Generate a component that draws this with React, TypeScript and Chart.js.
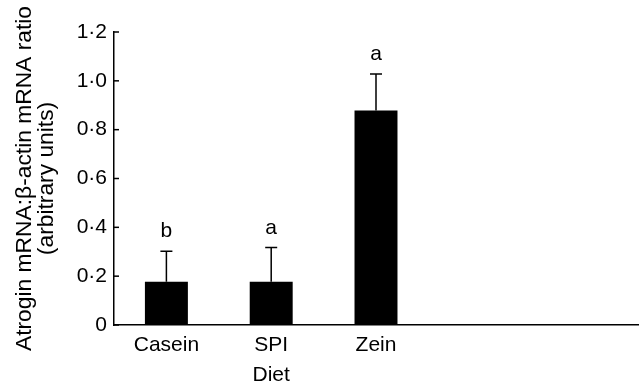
import React, { useEffect, useRef } from 'react';
import { Chart, registerables } from 'chart.js';

Chart.register(...registerables);

const categories = ['Casein', 'SPI', 'Zein', '', ''];
const meanValues = [0.177, 0.177, 0.878, null, null];
const errorValues = [0.125, 0.14, 0.15, null, null];
const letters = ['b', 'a', 'a', '', ''];
const yTickValues = [0, 0.2, 0.4, 0.6, 0.8, 1.0, 1.2];
const yTitle = ['Atrogin mRNA:β-actin mRNA ratio', '(arbitrary units)'];
const xTitle = 'Diet';

const FONT = '"Liberation Sans", Arial, Helvetica, sans-serif';
const FONT_SIZE = 21;
const TITLE_SIZE = 22.8;

const annotations = {
  id: 'annotations',
  afterDatasetsDraw(chart: any) {
    const { ctx, scales } = chart;
    const x = scales.x;
    const y = scales.y;
    ctx.save();
    // inward tick marks on the y axis
    ctx.strokeStyle = '#000';
    ctx.lineWidth = 1.5;
    yTickValues.forEach((v) => {
      const py = y.getPixelForValue(v);
      ctx.beginPath();
      ctx.moveTo(x.left, py);
      ctx.lineTo(x.left + 5, py);
      ctx.stroke();
    });
    // error bars and letters
    ctx.fillStyle = '#000';
    ctx.font = `${FONT_SIZE}px ${FONT}`;
    ctx.textAlign = 'center';
    ctx.textBaseline = 'alphabetic';
    meanValues.forEach((m, i) => {
      if (m == null) return;
      const e = errorValues[i] as number;
      const px = x.getPixelForValue(i);
      const pTop = y.getPixelForValue(m + e);
      const pMean = y.getPixelForValue(m);
      ctx.beginPath();
      ctx.moveTo(px, pMean);
      ctx.lineTo(px, pTop);
      ctx.moveTo(px - 6, pTop);
      ctx.lineTo(px + 6, pTop);
      ctx.stroke();
      if (letters[i]) ctx.fillText(letters[i], px, pTop - 14);
    });
    // x-axis title centred under the labelled categories
    const labelled = categories.map((c, i) => (c ? x.getPixelForValue(i) : null)).filter((v) => v != null) as number[];
    const cx = (Math.min(...labelled) + Math.max(...labelled)) / 2;
    ctx.textBaseline = 'middle';
    ctx.fillText(xTitle, cx, chart.chartArea.bottom + 50);
    ctx.restore();
  },
};

export default function App() {
  const canvasRef = useRef<HTMLCanvasElement | null>(null);

  useEffect(() => {
    const canvas = canvasRef.current;
    if (!canvas) return;
    const chart = new Chart(canvas, {
      type: 'bar',
      data: {
        labels: categories,
        datasets: [
          {
            data: meanValues as any,
            backgroundColor: '#000',
            borderWidth: 0,
            barPercentage: 0.41,
            categoryPercentage: 1,
          },
        ],
      },
      options: {
        responsive: false,
        animation: false,
        events: [],
        layout: { padding: { top: 32, right: 3, bottom: 0, left: 0 } },
        plugins: {
          legend: { display: false },
          tooltip: { enabled: false },
          title: { display: false },
        },
        scales: {
          x: {
            type: 'category',
            grid: { display: false, drawTicks: false },
            border: { display: true, color: '#000', width: 1.5 },
            ticks: {
              color: '#000',
              font: { family: FONT, size: FONT_SIZE },
              padding: 8,
              autoSkip: false,
              maxRotation: 0,
            },
            afterFit: (scale: any) => {
              scale.height = 65;
            },
          },
          y: {
            type: 'linear',
            min: 0,
            max: 1.2,
            grid: { display: false, drawTicks: false },
            border: { display: true, color: '#000', width: 1.5 },
            ticks: {
              stepSize: 0.2,
              color: '#000',
              padding: 7,
              font: { family: FONT, size: FONT_SIZE },
              callback: (v: any) => (Number(v) === 0 ? '0' : Number(v).toFixed(1).replace('.', '·')),
            },
            title: {
              display: true,
              text: yTitle,
              color: '#000',
              font: { family: FONT, size: TITLE_SIZE, lineHeight: 0.95 },
              padding: { top: 14, bottom: 0 },
            },
            afterFit: (scale: any) => {
              scale.width = 114;
            },
          },
        },
      },
      plugins: [annotations],
    });
    return () => chart.destroy();
  }, []);

  return (
    <div style={{ position: 'absolute', left: 0, top: 0, width: 641, height: 390, background: '#fff' }}>
      <canvas ref={canvasRef} width={641} height={390} style={{ display: 'block' }} />
    </div>
  );
}
